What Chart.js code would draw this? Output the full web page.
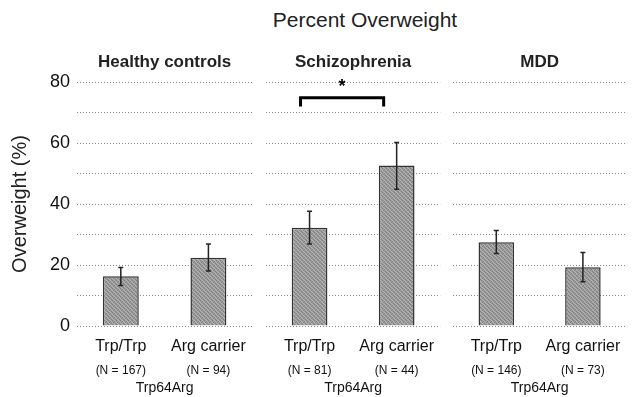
<!DOCTYPE html>
<html>
<head>
<meta charset="utf-8">
<script src="https://cdn.jsdelivr.net/npm/chart.js@4.4.1/dist/chart.umd.min.js"></script>
<style>
  html, body { margin: 0; padding: 0; background: #fff; }
  #wrap { position: relative; width: 632px; height: 397px; overflow: hidden; font-family: "Liberation Sans", Arial, sans-serif; }
  #wrap canvas { position: absolute; top: 0; }
  #title { position: absolute; left: 215px; width: 300px; top: 8px; text-align: center; white-space: nowrap;
           font-size: 21px; line-height: 24px; color: #222; }
</style>
</head>
<body>
<div id="wrap">
  <div id="title">Percent Overweight</div>
  <canvas id="c0" width="258" height="397" style="left:0px"></canvas>
  <canvas id="c1" width="184" height="397" style="left:262px"></canvas>
  <canvas id="c2" width="183" height="397" style="left:449px"></canvas>
</div>
<script>
// Percent overweight by Trp64Arg genotype

const groups = ['Healthy controls', 'Schizophrenia', 'MDD'];
const genotypes = ['Trp/Trp', 'Arg carrier'];
const sampleSizes = [
    ['(N = 167)', '(N = 94)'],
    ['(N = 81)', '(N = 44)'],
    ['(N = 146)', '(N = 73)']
];
const percentOverweight = [
    [16.3, 22.4],
    [32.2, 52.6],
    [27.5, 19.3]
];
const errorLow = [
    [13.3, 18.0],
    [26.9, 44.8],
    [23.8, 14.5]
];
const errorHigh = [
    [19.2, 26.9],
    [37.6, 60.2],
    [31.3, 24.1]
];
const yTickLabels = [0, 20, 40, 60, 80];
const axisTitle = 'Trp64Arg';

// significance bracket (schizophrenia panel), in % units
const bracketLevel = 74.8;
const bracketFoot = 72.0;
const starLevel = 79.2;

Chart.defaults.font.family = '"Liberation Sans", Arial, sans-serif';
Chart.defaults.color = '#111';

// grey speckled fill for the bars
function barPattern() {
    const p = document.createElement('canvas');
    p.width = 4; p.height = 4;
    const c = p.getContext('2d');
    c.fillStyle = '#9c9c9c';
    c.fillRect(0, 0, 4, 4);
    c.fillStyle = '#808080';
    c.fillRect(0, 0, 1, 1); c.fillRect(2, 1, 1, 1); c.fillRect(1, 2, 1, 1); c.fillRect(3, 3, 1, 1);
    c.fillStyle = '#b4b4b4';
    c.fillRect(2, 0, 1, 1); c.fillRect(0, 2, 1, 1); c.fillRect(3, 1, 1, 1); c.fillRect(1, 3, 1, 1);
    return document.createElement('canvas').getContext('2d').createPattern(p, 'repeat');
}

function errorBarsPlugin(low, high) {
    return {
        id: 'errorBars',
        afterDatasetsDraw(chart) {
            const ctx = chart.ctx;
            const y = chart.scales.y;
            const meta = chart.getDatasetMeta(0);
            ctx.save();
            ctx.strokeStyle = '#222';
            ctx.lineWidth = 1.5;
            meta.data.forEach((bar, i) => {
                const top = y.getPixelForValue(high[i]);
                const bot = y.getPixelForValue(low[i]);
                ctx.beginPath();
                ctx.moveTo(bar.x, top); ctx.lineTo(bar.x, bot);
                ctx.moveTo(bar.x - 2.5, top); ctx.lineTo(bar.x + 2.5, top);
                ctx.moveTo(bar.x - 2.5, bot); ctx.lineTo(bar.x + 2.5, bot);
                ctx.stroke();
            });
            ctx.restore();
        }
    };
}

function panelTitlePlugin(text) {
    return {
        id: 'panelTitle',
        afterDraw(chart) {
            const { ctx, chartArea } = chart;
            ctx.save();
            ctx.font = 'bold 17px "Liberation Sans", Arial, sans-serif';
            ctx.fillStyle = '#222';
            ctx.textAlign = 'center';
            ctx.textBaseline = 'alphabetic';
            ctx.fillText(text, (chartArea.left + chartArea.right) / 2, chartArea.top - 15);
            ctx.restore();
        }
    };
}

const sigBracket = {
    id: 'sigBracket',
    afterDatasetsDraw(chart) {
        const { ctx, scales: { x, y } } = chart;
        const x0 = x.getPixelForValue(0) - 9;
        const x1 = x.getPixelForValue(1) - 13;
        const yTop = y.getPixelForValue(bracketLevel);
        const yBot = y.getPixelForValue(bracketFoot);
        ctx.save();
        ctx.strokeStyle = '#000';
        ctx.lineWidth = 3;
        ctx.beginPath();
        ctx.moveTo(x0, yBot); ctx.lineTo(x0, yTop); ctx.lineTo(x1, yTop); ctx.lineTo(x1, yBot);
        ctx.stroke();
        ctx.font = 'bold 18px "Liberation Sans", Arial, sans-serif';
        ctx.fillStyle = '#000';
        ctx.textAlign = 'center';
        ctx.textBaseline = 'middle';
        ctx.fillText('*', (x0 + x1) / 2, y.getPixelForValue(starLevel) + 3);
        ctx.restore();
    }
};

const fill = barPattern();

function createPanel(g, canvasId, padding) {
    const first = g === 0;
    const plugins = [errorBarsPlugin(errorLow[g], errorHigh[g]), panelTitlePlugin(groups[g])];
    if (g === 1) plugins.push(sigBracket);

    new Chart(document.getElementById(canvasId), {
        type: 'bar',
        data: {
            labels: genotypes,
            datasets: [{
                data: percentOverweight[g],
                backgroundColor: fill,
                borderColor: '#333',
                borderWidth: 1.5,
                categoryPercentage: 1,
                barPercentage: 0.41
            }]
        },
        options: {
            responsive: false,
            animation: false,
            layout: { padding: { top: 82, bottom: 0, left: padding[0], right: padding[1] } },
            plugins: {
                legend: { display: false },
                tooltip: { enabled: false }
            },
            scales: {
                x: {
                    weight: 0,
                    grid: { display: false, drawTicks: false },
                    border: { display: false },
                    ticks: { font: { size: 16 }, color: '#111', padding: 11 },
                    afterFit: s => { s.height = 34; }
                },
                x2: {
                    type: 'category',
                    labels: sampleSizes[g],
                    position: 'bottom',
                    weight: 1,
                    grid: { display: false, drawTicks: false },
                    border: { display: false },
                    ticks: { font: { size: 12 }, color: '#111', padding: 3 },
                    title: { display: true, text: axisTitle, font: { size: 14 }, color: '#111', padding: 0 },
                    afterFit: s => { s.height = 37; }
                },
                y: {
                    min: 0,
                    max: 80,
                    grid: { color: '#8a8a8a', lineWidth: 1, drawTicks: false },
                    border: { display: false, dash: [1, 2] },
                    ticks: {
                        display: first,
                        stepSize: 10,
                        padding: 7,
                        font: { size: 18 },
                        color: '#111',
                        callback: v => yTickLabels.includes(v) ? v : ''
                    },
                    title: {
                        display: first,
                        text: 'Overweight (%)',
                        font: { size: 20 },
                        color: '#222',
                        padding: { top: 8, bottom: 0 }
                    },
                    afterFit: s => { s.width = first ? 77 : 0; }
                }
            }
        },
        plugins: plugins
    });
}

createPanel(0, 'c0', [0, 5]);
createPanel(1, 'c1', [4, 4]);
createPanel(2, 'c2', [4, 3]);
</script>
</body>
</html>
